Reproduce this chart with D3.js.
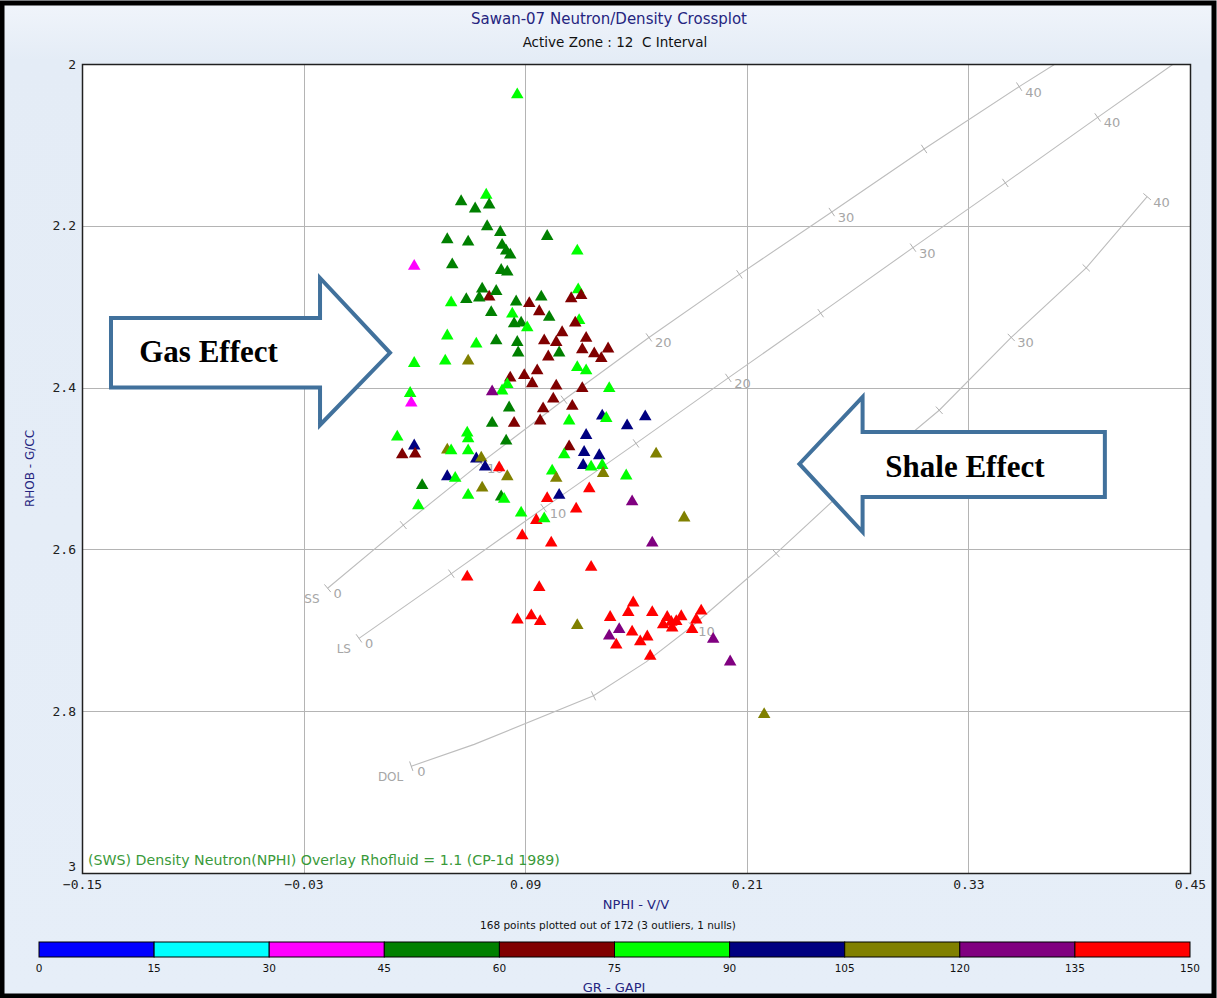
<!DOCTYPE html>
<html>
<head>
<meta charset="utf-8">
<script src="https://cdn.jsdelivr.net/npm/d3@7"></script>
<style>
  html, body { margin: 0; padding: 0; background: #ffffff; }
  svg { display: block; }
</style>
</head>
<body>
<svg id="chart" width="1217" height="998"></svg>
<script>
// ---- GR colour classes (GAPI) ----
const grBreaks = [0, 15, 30, 45, 60, 75, 90, 105, 120, 135, 150];
const grColors = ["#0000ff", "#00ffff", "#ff00ff", "#008000", "#800000",
                  "#00ff00", "#000080", "#808000", "#800080", "#ff0000"];

// ---- axis ticks ----
const xTicks = [-0.15, -0.03, 0.09, 0.21, 0.33, 0.45];
const yTicks = [2, 2.2, 2.4, 2.6, 2.8, 3];

// ---- crossplot samples: [NPHI v/v, RHOB g/cc, GR gapi] ----
const samples = [
  [0.0857, 2.038, 84], [0.0689, 2.162, 80], [0.0553, 2.170, 52], [0.0629, 2.179, 55],
  [0.0705, 2.174, 49], [0.0694, 2.201, 57], [0.0765, 2.208, 51], [0.0478, 2.217, 54],
  [0.0591, 2.220, 47], [0.1019, 2.213, 58], [0.0775, 2.224, 53], [0.0797, 2.231, 50],
  [0.0819, 2.236, 56], [0.1182, 2.231, 86], [0.0299, 2.250, 38], [0.0505, 2.248, 52],
  [0.0770, 2.255, 48], [0.0803, 2.257, 55], [0.0667, 2.278, 51], [0.0705, 2.288, 66],
  [0.0743, 2.281, 57], [0.0581, 2.291, 53], [0.0651, 2.289, 49], [0.0499, 2.295, 83],
  [0.0851, 2.294, 54], [0.0922, 2.296, 70], [0.0987, 2.288, 56], [0.1187, 2.279, 81],
  [0.1149, 2.290, 67], [0.1203, 2.286, 72], [0.0716, 2.307, 52], [0.0830, 2.309, 79],
  [0.0976, 2.306, 64], [0.1030, 2.313, 55], [0.0840, 2.321, 58], [0.0878, 2.320, 50],
  [0.0911, 2.326, 85], [0.1192, 2.317, 78], [0.1171, 2.320, 69], [0.0478, 2.336, 82],
  [0.0635, 2.346, 88], [0.0743, 2.342, 53], [0.0857, 2.344, 57], [0.1003, 2.342, 71],
  [0.1100, 2.332, 65], [0.1068, 2.344, 73], [0.1230, 2.339, 62], [0.1209, 2.353, 68],
  [0.1274, 2.358, 74], [0.1349, 2.352, 66], [0.1312, 2.364, 70], [0.1084, 2.357, 59],
  [0.1025, 2.362, 63], [0.0862, 2.357, 46], [0.0467, 2.367, 80], [0.0299, 2.370, 84],
  [0.0591, 2.367, 111], [0.1182, 2.375, 87], [0.1230, 2.379, 79], [0.0819, 2.388, 67],
  [0.0895, 2.385, 72], [0.0965, 2.379, 61], [0.0938, 2.395, 69], [0.0803, 2.396, 81],
  [0.0775, 2.404, 77], [0.0721, 2.405, 126], [0.1068, 2.398, 65], [0.1209, 2.401, 71],
  [0.1355, 2.401, 83], [0.0277, 2.407, 86], [0.0283, 2.419, 41], [0.0813, 2.425, 54],
  [0.1052, 2.414, 68], [0.0997, 2.426, 73], [0.1155, 2.423, 64], [0.1317, 2.435, 96],
  [0.1339, 2.438, 84], [0.1452, 2.447, 99], [0.1550, 2.436, 93], [0.0721, 2.444, 56],
  [0.0840, 2.444, 70], [0.0981, 2.441, 66], [0.1138, 2.441, 80], [0.1230, 2.459, 101],
  [0.0207, 2.461, 82], [0.0586, 2.456, 85], [0.0591, 2.463, 78], [0.0797, 2.466, 52],
  [0.0299, 2.472, 94], [0.0234, 2.483, 68], [0.0304, 2.482, 72], [0.0478, 2.477, 109],
  [0.0499, 2.478, 81], [0.0591, 2.478, 87], [0.1138, 2.473, 67], [0.1111, 2.483, 79],
  [0.1219, 2.480, 98], [0.1301, 2.484, 95], [0.0635, 2.488, 100], [0.0662, 2.487, 114],
  [0.0683, 2.498, 92], [0.0759, 2.499, 141], [0.1214, 2.496, 97], [0.1257, 2.498, 83],
  [0.1317, 2.496, 86], [0.1046, 2.503, 80], [0.1609, 2.482, 116], [0.1322, 2.506, 108],
  [0.1447, 2.509, 84], [0.1068, 2.512, 113], [0.0342, 2.521, 55], [0.0478, 2.510, 96],
  [0.0521, 2.512, 78], [0.0803, 2.510, 110], [0.0667, 2.524, 117], [0.0591, 2.533, 82],
  [0.0770, 2.535, 57], [0.0786, 2.538, 85], [0.1084, 2.533, 99], [0.1019, 2.537, 143],
  [0.1247, 2.525, 138], [0.1479, 2.541, 124], [0.0321, 2.546, 80], [0.0878, 2.555, 81],
  [0.1176, 2.550, 146], [0.0960, 2.564, 140], [0.1003, 2.562, 88], [0.0884, 2.583, 142],
  [0.1041, 2.592, 137], [0.1588, 2.592, 129], [0.1761, 2.561, 112], [0.0586, 2.634, 144],
  [0.1257, 2.622, 139], [0.0976, 2.647, 145], [0.0858, 2.687, 141], [0.0933, 2.682, 136],
  [0.0981, 2.689, 148], [0.1182, 2.694, 106], [0.1360, 2.684, 142], [0.1485, 2.666, 139],
  [0.1458, 2.678, 144], [0.1588, 2.678, 137], [0.1355, 2.707, 125], [0.1409, 2.699, 131],
  [0.1479, 2.702, 140], [0.1393, 2.718, 146], [0.1523, 2.714, 138], [0.1561, 2.708, 143],
  [0.1577, 2.732, 141], [0.1669, 2.684, 145], [0.1647, 2.693, 139], [0.1691, 2.690, 147],
  [0.1718, 2.689, 136], [0.1745, 2.683, 142], [0.1696, 2.697, 144], [0.1853, 2.676, 138],
  [0.1826, 2.687, 141], [0.1804, 2.699, 147], [0.1918, 2.711, 127], [0.2010, 2.739, 123],
  [0.2194, 2.804, 115]
];

// ---- lithology overlay lines: [porosity %, NPHI, RHOB] ----
const sandstoneLine = [
  [0, -0.017, 2.648], [5, 0.024, 2.570], [10, 0.066, 2.493], [15, 0.111, 2.415],
  [20, 0.157, 2.338], [25, 0.206, 2.260], [30, 0.256, 2.183], [35, 0.306, 2.105],
  [40, 0.3575, 2.028], [42, 0.377, 2.000]
];
const limestoneLine = [
  [0, 0.000, 2.710], [5, 0.050, 2.630], [10, 0.100, 2.549], [15, 0.150, 2.469],
  [20, 0.200, 2.388], [25, 0.250, 2.308], [30, 0.300, 2.227], [35, 0.350, 2.147],
  [40, 0.400, 2.066], [44, 0.441, 2.000]
];
const dolomiteLine = [
  [0, 0.0283, 2.868], [3, 0.0624, 2.841], [5, 0.127, 2.781], [7, 0.1555, 2.739],
  [10, 0.1804, 2.695], [15, 0.2259, 2.605], [20, 0.268, 2.516], [25, 0.3142, 2.428],
  [30, 0.3532, 2.338], [35, 0.3938, 2.252], [40, 0.4268, 2.164]
];
const lithoNames = ["SS", "LS", "DOL"];
const labelledPorosity = [0, 10, 20, 30, 40];
const tickedPorosity = [0, 5, 10, 15, 20, 25, 30, 35, 40];

// ---- texts ----
const chartTitle = "Sawan-07 Neutron/Density Crossplot";
const chartSubtitle = "Active Zone : 12  C Interval";
const xTitle = "NPHI - V/V";
const yTitle = "RHOB - G/CC";
const countNote = "168 points plotted out of 172 (3 outliers, 1 nulls)";
const overlayNote = "(SWS) Density Neutron(NPHI) Overlay Rhofluid = 1.1 (CP-1d 1989)";
const colorTitle = "GR - GAPI";

// ---- layout ----
const W = 1217, H = 998;
const plot = { left: 82, top: 64, right: 1190, bottom: 873 };
const bar = { left: 39, right: 1190, top: 942, height: 15 };

const svg = d3.select("#chart");

// panel background
const defs = svg.append("defs");
const bg = defs.append("linearGradient").attr("id", "panelBg")
  .attr("x1", 0).attr("y1", 0).attr("x2", 0).attr("y2", 1);
bg.append("stop").attr("offset", "0").attr("stop-color", "#f1f5fb");
bg.append("stop").attr("offset", "0.06").attr("stop-color", "#e4ecf6");
bg.append("stop").attr("offset", "1").attr("stop-color", "#e6eef8");
svg.append("rect").attr("width", W).attr("height", H).attr("fill", "url(#panelBg)");

// scales
const x = d3.scaleLinear().domain([-0.15, 0.45]).range([plot.left, plot.right]);
const y = d3.scaleLinear().domain([2, 3]).range([plot.top, plot.bottom]);
const colorOf = d3.scaleThreshold().domain(grBreaks.slice(1, -1)).range(grColors);

// plot area
svg.append("rect")
  .attr("x", plot.left).attr("y", plot.top)
  .attr("width", plot.right - plot.left).attr("height", plot.bottom - plot.top)
  .attr("fill", "#ffffff");

const clip = defs.append("clipPath").attr("id", "plotClip");
clip.append("rect").attr("x", plot.left).attr("y", plot.top)
  .attr("width", plot.right - plot.left).attr("height", plot.bottom - plot.top);

// grid
const grid = svg.append("g").attr("stroke", "#b4b4b4").attr("stroke-width", 1);
grid.selectAll("line.gx").data(xTicks.slice(1, -1)).join("line")
  .attr("x1", d => Math.round(x(d)) + 0.5).attr("x2", d => Math.round(x(d)) + 0.5)
  .attr("y1", plot.top).attr("y2", plot.bottom);
grid.selectAll("line.gy").data(yTicks.slice(1, -1)).join("line")
  .attr("y1", d => Math.round(y(d)) + 0.5).attr("y2", d => Math.round(y(d)) + 0.5)
  .attr("x1", plot.left).attr("x2", plot.right);

// axes (labels only; the frame is drawn separately)
const monoFont = "'DejaVu Sans Mono', 'Liberation Mono', monospace";
const sansFont = "'DejaVu Sans', Verdana, sans-serif";

const xAxis = d3.axisBottom(x).tickValues(xTicks).tickSize(0).tickPadding(7)
  .tickFormat(d => d3.format(".2f")(d));
svg.append("g").attr("transform", `translate(0,${plot.bottom})`).call(xAxis)
  .call(g => g.select(".domain").remove())
  .call(g => g.selectAll("text").attr("font-family", monoFont).attr("font-size", 13)
    .attr("fill", "#202020"));

const yAxis = d3.axisLeft(y).tickValues(yTicks).tickSize(0).tickPadding(6)
  .tickFormat(d => d3.format("")(d));
svg.append("g").attr("transform", `translate(${plot.left},0)`).call(yAxis)
  .call(g => g.select(".domain").remove())
  .call(g => g.selectAll("text").attr("font-family", monoFont).attr("font-size", 13)
    .attr("fill", "#202020"))
  // the bottom label sits just above the first x label
  .call(g => g.selectAll(".tick").filter(d => d === 3).select("text").attr("dy", "-0.2em"));

// lithology overlay
const overlay = svg.append("g").attr("clip-path", "url(#plotClip)");
const lineGen = d3.line().x(d => x(d[1])).y(d => y(d[2]));
const lithoLines = [sandstoneLine, limestoneLine, dolomiteLine];
lithoLines.forEach((pts, i) => {
  overlay.append("path").datum(pts).attr("d", lineGen)
    .attr("fill", "none").attr("stroke", "#bdbdbd").attr("stroke-width", 1.1);
  // porosity ticks across the line
  const ticks = pts.filter(p => tickedPorosity.includes(p[0]));
  overlay.selectAll(null).data(ticks).join("line")
    .each(function (p) {
      const k = pts.indexOf(p);
      const a = pts[Math.max(0, k - 1)], b = pts[Math.min(pts.length - 1, k + 1)];
      const dx = x(b[1]) - x(a[1]), dy = y(b[2]) - y(a[2]);
      const len = Math.hypot(dx, dy) || 1;
      const nx = -dy / len * 5, ny = dx / len * 5;
      d3.select(this)
        .attr("x1", x(p[1]) - nx).attr("y1", y(p[2]) - ny)
        .attr("x2", x(p[1]) + nx).attr("y2", y(p[2]) + ny);
    })
    .attr("stroke", "#b0b0b0").attr("stroke-width", 1);
  const labelled = pts.filter(p => labelledPorosity.includes(p[0]));
  overlay.selectAll(null).data(labelled).join("text")
    .attr("x", p => x(p[1]) + 6).attr("y", p => y(p[2]) + 10)
    .attr("font-family", sansFont).attr("font-size", 13).attr("fill", "#a6a6a6")
    .text(p => p[0]);
  overlay.append("text")
    .attr("x", x(pts[0][1]) - 8).attr("y", y(pts[0][2]) + 15)
    .attr("text-anchor", "end")
    .attr("font-family", sansFont).attr("font-size", 12).attr("fill", "#a6a6a6")
    .text(lithoNames[i]);
});

// samples
const tri = d3.symbol().type(d3.symbolTriangle).size(68);
svg.append("g").attr("clip-path", "url(#plotClip)")
  .selectAll("path").data(samples).join("path")
  .attr("d", tri)
  .attr("transform", d => `translate(${x(d[0])},${y(d[1])})`)
  .attr("fill", d => colorOf(d[2]));

// effect arrows (block arrows, positioned in NPHI/RHOB units)
const gasArrow = { tail: -0.1343, neck: -0.0211, tip: 0.0168,
  bodyTop: 2.314, bodyBot: 2.4, headTop: 2.2645, headBot: 2.4462, mid: 2.357 };
const shaleArrow = { tail: 0.4039, neck: 0.2727, tip: 0.2385,
  bodyTop: 2.4549, bodyBot: 2.5353, headTop: 2.4116, headBot: 2.5785, mid: 2.4944 };
function blockArrow(a) {
  return [[a.tail, a.bodyTop], [a.neck, a.bodyTop], [a.neck, a.headTop], [a.tip, a.mid],
          [a.neck, a.headBot], [a.neck, a.bodyBot], [a.tail, a.bodyBot]];
}
const arrowLine = d3.line().x(d => x(d[0])).y(d => y(d[1])).curve(d3.curveLinearClosed);
[gasArrow, shaleArrow].forEach(a => {
  svg.append("path").attr("d", arrowLine(blockArrow(a)))
    .attr("fill", "#ffffff").attr("stroke", "#41719c").attr("stroke-width", 4)
    .attr("stroke-linejoin", "miter");
});
const serifBold = "'Liberation Serif', 'Times New Roman', serif";
svg.append("text").attr("x", x(-0.1190)).attr("y", y(2.3688))
  .attr("font-family", serifBold).attr("font-weight", "bold").attr("font-size", 31)
  .attr("fill", "#000").text("Gas Effect");
svg.append("text").attr("x", x(0.2850)).attr("y", y(2.5106))
  .attr("font-family", serifBold).attr("font-weight", "bold").attr("font-size", 31)
  .attr("fill", "#000").text("Shale Effect");

// overlay caption inside plot
svg.append("text").attr("x", plot.left + 6).attr("y", plot.bottom - 8)
  .attr("font-family", sansFont).attr("font-size", 14.2).attr("fill", "#3a9a3a")
  .text(overlayNote);

// plot frame
svg.append("rect")
  .attr("x", plot.left + 0.5).attr("y", plot.top + 0.5)
  .attr("width", plot.right - plot.left).attr("height", plot.bottom - plot.top)
  .attr("fill", "none").attr("stroke", "#202020").attr("stroke-width", 1.5);

// titles
svg.append("text").attr("x", 609).attr("y", 24).attr("text-anchor", "middle")
  .attr("font-family", sansFont).attr("font-size", 15).attr("fill", "#252580")
  .text(chartTitle);
svg.append("text").attr("x", 615).attr("y", 47).attr("text-anchor", "middle")
  .attr("font-family", sansFont).attr("font-size", 13.5).attr("fill", "#111")
  .style("white-space", "pre").attr("xml:space", "preserve")
  .text(chartSubtitle);
svg.append("text").attr("x", (plot.left + plot.right) / 2 + 0).attr("y", 909)
  .attr("text-anchor", "middle")
  .attr("font-family", sansFont).attr("font-size", 13).attr("fill", "#252580")
  .text(xTitle);
svg.append("text").attr("x", 608).attr("y", 929).attr("text-anchor", "middle")
  .attr("font-family", sansFont).attr("font-size", 10.5).attr("fill", "#111")
  .text(countNote);
svg.append("text")
  .attr("transform", `translate(34,${(plot.top + plot.bottom) / 2}) rotate(-90)`)
  .attr("text-anchor", "middle")
  .attr("font-family", sansFont).attr("font-size", 12).attr("fill", "#252580")
  .text(yTitle);

// GR colour bar
const xb = d3.scaleLinear().domain([0, 150]).range([bar.left, bar.right]);
const barG = svg.append("g");
barG.selectAll("rect").data(grColors).join("rect")
  .attr("x", (d, i) => xb(grBreaks[i])).attr("y", bar.top)
  .attr("width", (d, i) => xb(grBreaks[i + 1]) - xb(grBreaks[i]))
  .attr("height", bar.height)
  .attr("fill", d => d).attr("stroke", "#000").attr("stroke-width", 1);
barG.selectAll("text").data(grBreaks).join("text")
  .attr("x", d => xb(d)).attr("y", bar.top + bar.height + 15)
  .attr("text-anchor", "middle")
  .attr("font-family", sansFont).attr("font-size", 10.5).attr("fill", "#111")
  .text(d => d);
svg.append("text").attr("x", 614).attr("y", 992).attr("text-anchor", "middle")
  .attr("font-family", sansFont).attr("font-size", 13).attr("fill", "#252580")
  .text(colorTitle);

// outer frame
svg.append("rect").attr("x", 2).attr("y", 3).attr("width", W - 5).attr("height", H - 5)
  .attr("fill", "none").attr("stroke", "#000").attr("stroke-width", 5);
</script>
</body>
</html>
